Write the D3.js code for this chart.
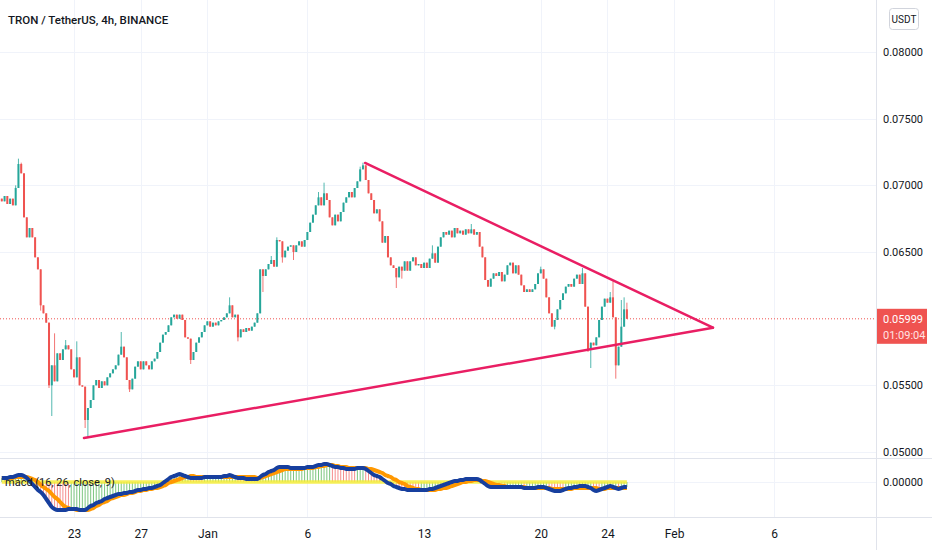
<!DOCTYPE html>
<html lang="en">
<head>
<meta charset="UTF-8">
<title>TRON / TetherUS, 4h</title>
<script src="https://cdn.jsdelivr.net/npm/d3@7"></script>
<style>
    body { margin: 0; background: #ffffff; }
    svg { display: block; }
    text { font-family: Roboto, "Noto Sans", sans-serif; fill: #131722; }
</style>
</head>
<body>
<script>

    // ---- data ----

    // 4h closes, first bar = Dec 18 16:00, last = Jan 25 04:00
    var firstOpen = 0.0690;
    var closes = [
        .0688,.0692,.0686,.0690,.0685,.0698,.0716,.0709,.0676,.0661,
        .0668,.0661,.0646,.0637,.0610,.0604,.0597,.0550,.0565,.0553,
        .0574,.0569,.0577,.0580,.0577,.0562,.0556,.0571,.0550,.0549,
        .0524,.0533,.0539,.0550,.0554,.0548,.0553,.0550,.0556,.0559,
        .0562,.0565,.0573,.0579,.0571,.0554,.0547,.0555,.0564,.0568,
        .0562,.0568,.0565,.0562,.0568,.0570,.0575,.0582,.0588,.0590,
        .0595,.0601,.0603,.0600,.0603,.0599,.0586,.0585,.0569,.0575,
        .0582,.0586,.0590,.0595,.0598,.0594,.0597,.0595,.0598,.0599,
        .0601,.0604,.0610,.0601,.0603,.0586,.0592,.0590,.0593,.0591,
        .0594,.0597,.0604,.0637,.0632,.0637,.0641,.0644,.0639,.0659,
        .0658,.0646,.0651,.0654,.0655,.0650,.0655,.0658,.0654,.0659,
        .0665,.0672,.0678,.0685,.0691,.0685,.0694,.0689,.0676,.0670,
        .0678,.0673,.0680,.0687,.0691,.0695,.0691,.0698,.0703,.0712,
        .0715,.0704,.0694,.0689,.0679,.0682,.0673,.0657,.0662,.0646,
        .0640,.0638,.0631,.0639,.0636,.0643,.0636,.0643,.0646,.0640,
        .0641,.0638,.0642,.0638,.0645,.0649,.0642,.0654,.0661,.0665,
        .0663,.0666,.0661,.0668,.0664,.0666,.0663,.0667,.0664,.0667,
        .0663,.0665,.0654,.0646,.0629,.0624,.0630,.0634,.0632,.0635,
        .0628,.0633,.0640,.0642,.0634,.0640,.0633,.0625,.0620,.0622,
        .0620,.0622,.0626,.0634,.0637,.0630,.0616,.0604,.0594,.0599,
        .0607,.0614,.0619,.0624,.0626,.0624,.0630,.0633,.0626,.0634,
        .0609,.0577,.0582,.0580,.0586,.0599,.0609,.0615,.0612,.0616,
        .0601,.0565,.0579,.0594,.0607,.05999
    ];

    // visible wicks  [bar index, price]
    var highWicks = [[5,.0700],[6,.0720],[7,.0717],[13,.0646],[19,.0589],[23,.0584],[27,.0583],
        [43,.0590],[82,.0616],[97,.0647],[99,.0661],[114,.0695],[116,.0702],[129,.0714],[130,.0717],
        [155,.0655],[169,.0671],[194,.0639],[209,.0638],[219,.0620],[220,.0628],[223,.0614],
        [224,.0616],[225,.0612]];
    var lowWicks = [[14,.0606],[17,.0548],[18,.0527],[30,.0518],[31,.0511],[46,.0545],[68,.0566],
        [85,.0583],[94,.0620],[101,.0642],[105,.0644],[142,.0623],[144,.0630],[199,.0592],
        [211,.0575],[212,.0563],[221,.0555]];

    // macd (16, 26, close, 9), in units of 0.0001
    var macdLine = [
        4,4,4,5,5,6,7,7,6,4,
        1,-2,-5,-8,-10,-13,-17,-21,-25,-27,
        -28,-28,-28,-28,-27,-27,-27,-27,-28,-28,
        -28,-26,-24,-23,-21,-20,-19,-17,-16,-15,
        -14,-13,-12,-12,-11,-11,-10,-10,-9,-8,
        -8,-7,-7,-6,-6,-5,-4,-3,-1,1,
        3,5,6,7,8,7,6,5,4,4,
        4,4,4,5,5,5,5,5,5,5,
        6,6,7,6,5,4,4,4,3,3,
        3,3,3,5,7,8,10,11,12,14,
        15,15,15,15,14,14,14,14,14,14,
        15,15,15,16,17,17,18,18,17,16,
        15,15,14,14,13,13,13,13,14,14,
        14,13,11,9,7,6,5,3,1,-1,
        -2,-4,-5,-6,-7,-7,-8,-8,-8,-8,
        -8,-8,-8,-8,-7,-7,-6,-5,-4,-3,
        -2,-1,0,1,1,2,2,3,3,3,
        3,3,2,0,-2,-4,-5,-5,-5,-5,
        -5,-5,-5,-5,-5,-5,-5,-5,-6,-6,
        -6,-6,-6,-5,-5,-5,-6,-7,-8,-9,
        -9,-9,-8,-7,-6,-6,-5,-5,-4,-4,
        -4,-5,-6,-8,-9,-8,-7,-6,-5,-4,
        -5,-6,-7,-6,-5,-5
    ];
    var signalLine = [
        4,4,4,4,4,5,5,5,5,5,
        4,3,2,0,-3,-5,-7,-9,-12,-15,
        -17,-20,-23,-25,-26,-27,-27,-28,-28,-28,
        -28,-28,-27,-26,-24,-23,-21,-20,-19,-17,
        -16,-15,-14,-13,-13,-12,-11,-11,-10,-9,
        -9,-8,-8,-7,-7,-6,-6,-5,-4,-3,
        -1,0,1,2,3,4,5,5,6,6,
        5,5,5,5,5,5,5,5,5,5,
        5,5,5,5,5,5,5,5,5,5,
        5,5,4,4,5,6,7,8,9,10,
        11,12,13,13,13,13,13,13,13,14,
        14,14,14,15,15,16,16,17,17,17,
        16,16,15,15,15,14,14,14,14,14,
        14,14,13,13,12,11,10,9,7,6,
        5,3,2,0,-1,-2,-4,-5,-6,-7,
        -7,-8,-8,-8,-8,-8,-8,-7,-7,-6,
        -6,-5,-4,-3,-2,-1,0,0,1,1,
        2,2,2,1,1,0,-1,-2,-3,-3,
        -4,-4,-5,-5,-5,-5,-5,-5,-5,-6,
        -6,-6,-6,-6,-6,-6,-6,-6,-7,-7,
        -7,-7,-7,-7,-7,-7,-6,-6,-6,-6,
        -6,-6,-6,-6,-6,-7,-7,-7,-6,-6,
        -6,-6,-6,-6,-6,-6
    ];
    var macdUnit = 0.0001;

    // drawn triangle: [day, price], day 0 = Dec 23
    var upperLine = [[17.46, 0.07168], [38.33, 0.05932]];
    var lowerLine = [[0.60, 0.05105], [38.33, 0.05932]];

    // axes
    var tickDays = [0, 4, 8, 14, 21, 28, 32, 36, 42];
    var tickLabels = ["23", "27", "Jan", "6", "13", "20", "24", "Feb", "6"];
    var priceTicks = [0.05, 0.055, 0.065, 0.07, 0.075, 0.08];
    var lastPrice = 0.05999;
    var countdown = "01:09:04";
    var firstBarDay = -4.3333;   // Dec 18 16:00
    var barsPerDay = 6;

    // ---- layout ----
    var width = 932;
    var height = 550;
    var plotRight = 876;
    var mainBottom = 458;
    var macdTop = 458;
    var macdBottom = 517;

    var green = "#26a69a";
    var red = "#ef5350";
    var gridColor = "#f0f3fa";
    var lineColor = "#e0e3eb";

    var svg = d3.select("body")
        .append("svg")
        .attr("width", width)
        .attr("height", height);

    var x = d3.scaleLinear().domain([-4.44, 48.11]).range([0, plotRight]);
    var y = d3.scaleLinear().domain([0.04955, 0.0839]).range([mainBottom, 0]);
    var ym = d3.scaleLinear().domain([-0.0035, 0.0024]).range([macdBottom, macdTop]);

    function barDay(i) { return firstBarDay + i / barsPerDay; }

    // build candles
    var highMap = new Map(highWicks), lowMap = new Map(lowWicks);
    var candles = closes.map(function (c, i) {
        var o = i === 0 ? firstOpen : closes[i - 1];
        return {
            i: i, o: o, c: c,
            h: highMap.has(i) ? highMap.get(i) : Math.max(o, c),
            l: lowMap.has(i) ? lowMap.get(i) : Math.min(o, c)
        };
    });

    // ---- grid ----
    var grid = svg.append("g");
    grid.selectAll(".hgrid")
        .data(priceTicks)
        .enter()
        .append("line")
        .attr("x1", 0).attr("x2", plotRight)
        .attr("y1", function (d) { return Math.round(y(d)) + 0.5; })
        .attr("y2", function (d) { return Math.round(y(d)) + 0.5; })
        .attr("stroke", gridColor);
    grid.selectAll(".vgrid")
        .data(tickDays)
        .enter()
        .append("line")
        .attr("x1", function (d) { return Math.round(x(d)) + 0.5; })
        .attr("x2", function (d) { return Math.round(x(d)) + 0.5; })
        .attr("y1", 0).attr("y2", macdBottom)
        .attr("stroke", gridColor);
    grid.append("line")
        .attr("x1", 0).attr("x2", plotRight)
        .attr("y1", Math.round(ym(0)) + 0.5).attr("y2", Math.round(ym(0)) + 0.5)
        .attr("stroke", gridColor);

    // pane borders
    svg.append("line").attr("x1", 0).attr("x2", width).attr("y1", macdTop + 0.5).attr("y2", macdTop + 0.5).attr("stroke", lineColor);
    svg.append("line").attr("x1", 0).attr("x2", width).attr("y1", macdBottom + 0.5).attr("y2", macdBottom + 0.5).attr("stroke", lineColor);
    svg.append("line").attr("x1", plotRight + 0.5).attr("x2", plotRight + 0.5).attr("y1", 0).attr("y2", height).attr("stroke", lineColor);

    // ---- last price line ----
    svg.append("line")
        .attr("x1", 0).attr("x2", plotRight)
        .attr("y1", y(lastPrice)).attr("y2", y(lastPrice))
        .attr("stroke", red)
        .attr("stroke-width", 1)
        .attr("stroke-dasharray", "1,2");

    // ---- candles ----
    var cg = svg.append("g");
    cg.selectAll(".wick")
        .data(candles)
        .enter()
        .append("line")
        .attr("x1", function (d) { return x(barDay(d.i)); })
        .attr("x2", function (d) { return x(barDay(d.i)); })
        .attr("y1", function (d) { return y(d.h); })
        .attr("y2", function (d) { return y(d.l); })
        .attr("stroke", function (d) { return d.c >= d.o ? green : red; })
        .attr("stroke-width", 0.8);
    cg.selectAll(".body")
        .data(candles)
        .enter()
        .append("rect")
        .attr("x", function (d) { return x(barDay(d.i)) - 1; })
        .attr("y", function (d) { return y(Math.max(d.o, d.c)); })
        .attr("width", 2)
        .attr("height", function (d) { return Math.max(1, Math.abs(y(d.o) - y(d.c))); })
        .attr("fill", function (d) { return d.c >= d.o ? green : red; });

    // ---- triangle ----
    var line = d3.line()
        .x(function (d) { return x(d[0]); })
        .y(function (d) { return y(d[1]); });
    [upperLine, lowerLine].forEach(function (pts) {
        svg.append("path")
            .attr("d", line(pts))
            .attr("fill", "none")
            .attr("stroke", "#e91e63")
            .attr("stroke-width", 2.5)
            .attr("stroke-linecap", "round");
    });

    // ---- macd pane ----
    var mg = svg.append("g");
    mg.selectAll(".hist")
        .data(macdLine)
        .enter()
        .append("line")
        .attr("x1", function (d, i) { return x(barDay(i)); })
        .attr("x2", function (d, i) { return x(barDay(i)); })
        .attr("y1", ym(0))
        .attr("y2", function (d) { return ym(d * macdUnit); })
        .attr("stroke", function (d, i) { return d >= signalLine[i] ? "#5cb860" : "#f27070"; })
        .attr("stroke-opacity", 0.8)
        .attr("stroke-width", 1);

    mg.append("line")
        .attr("x1", x(barDay(0))).attr("x2", x(barDay(closes.length - 1)))
        .attr("y1", ym(0)).attr("y2", ym(0))
        .attr("stroke", "#f5ee3a")
        .attr("stroke-width", 3.5)
        .attr("opacity", 0.85);

    var mline = d3.line()
        .x(function (d, i) { return x(barDay(i)); })
        .y(function (d) { return ym(d * macdUnit); })
        .curve(d3.curveMonotoneX);
    mg.append("path")
        .attr("d", mline(signalLine))
        .attr("fill", "none")
        .attr("stroke", "#ff9800")
        .attr("stroke-width", 4)
        .attr("stroke-linejoin", "round");
    mg.append("path")
        .attr("d", mline(macdLine))
        .attr("fill", "none")
        .attr("stroke", "#173f9e")
        .attr("stroke-width", 4)
        .attr("stroke-linejoin", "round");

    mg.append("text")
        .attr("x", 5)
        .attr("y", ym(0) + 4)
        .attr("font-size", "11px")
        .text("macd (16, 26, close, 9)");

    // ---- price axis ----
    var priceAxis = svg.append("g")
        .attr("transform", "translate(" + plotRight + ",0)")
        .call(d3.axisRight(y).tickValues(priceTicks).tickSize(0).tickPadding(7).tickFormat(d3.format(".5f")));
    priceAxis.select(".domain").remove();
    priceAxis.selectAll("text").attr("font-size", "11px").attr("fill", "#131722");

    var macdAxis = svg.append("g")
        .attr("transform", "translate(" + plotRight + ",0)")
        .call(d3.axisRight(ym).tickValues([0]).tickSize(0).tickPadding(7).tickFormat(d3.format(".5f")));
    macdAxis.select(".domain").remove();
    macdAxis.selectAll("text").attr("font-size", "11px").attr("fill", "#131722");

    // last price tag
    var tagY = y(lastPrice);
    svg.append("rect")
        .attr("x", plotRight + 1)
        .attr("y", tagY - 10)
        .attr("width", 50)
        .attr("height", 35)
        .attr("fill", red);
    svg.append("text")
        .attr("x", plotRight + 7)
        .attr("y", tagY + 4)
        .attr("font-size", "11px")
        .style("fill", "#ffffff")
        .text(d3.format(".5f")(lastPrice));
    svg.append("text")
        .attr("x", plotRight + 7)
        .attr("y", tagY + 20)
        .attr("font-size", "11px")
        .style("fill", "#ffe3e3")
        .text(countdown);

    // currency button
    svg.append("rect")
        .attr("x", 889.5).attr("y", 8.5)
        .attr("width", 29).attr("height", 21)
        .attr("rx", 3)
        .attr("fill", "#ffffff")
        .attr("stroke", "#d1d4dc");
    svg.append("text")
        .attr("x", 904).attr("y", 23)
        .attr("text-anchor", "middle")
        .attr("font-size", "10px")
        .text("USDT");

    // ---- time axis ----
    var timeAxis = svg.append("g")
        .attr("transform", "translate(0," + macdBottom + ")")
        .call(d3.axisBottom(x).tickValues(tickDays).tickSize(0).tickPadding(12)
            .tickFormat(function (d, i) { return tickLabels[i]; }));
    timeAxis.select(".domain").remove();
    timeAxis.selectAll("text").attr("font-size", "12px").attr("fill", "#131722");

    // ---- title ----
    svg.append("text")
        .attr("x", 8)
        .attr("y", 24)
        .attr("font-size", "11.5px")
        .attr("font-weight", 500)
        .text("TRON / TetherUS, 4h, BINANCE");

</script>
</body>
</html>
